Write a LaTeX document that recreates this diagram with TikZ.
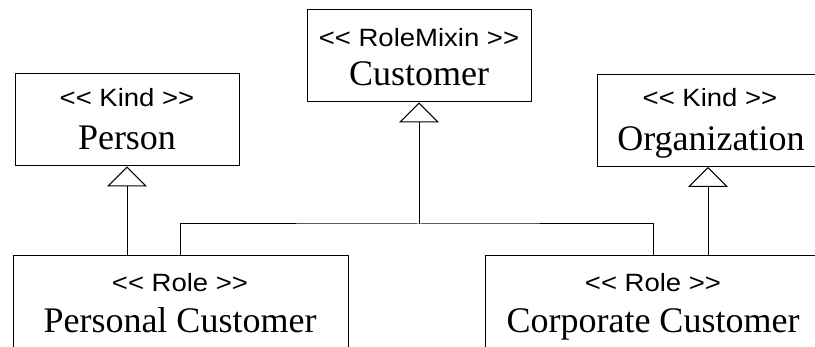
\documentclass[tikz,border=0pt]{standalone}
\usepackage{fontspec}
\setmainfont{Liberation Serif}
\newfontfamily\stereofont[FakeStretch=1.1]{Liberation Sans}
\usetikzlibrary{arrows.meta}
\begin{document}
\begin{tikzpicture}[x=1pt,y=-1pt,line width=1pt,
  umlbox/.style={draw=black,line width=1pt,inner sep=0pt,minimum width=#1,minimum height=92pt},
  stereo/.style={anchor=base,inner sep=0pt,font=\stereofont\fontsize{25}{28}\selectfont},
  cname/.style={anchor=base,inner sep=0pt,font=\fontsize{36}{40}\selectfont},
  gen/.style={draw=black,line width=1pt,-{Triangle[open,length=20pt,width=40pt]}}]
\fill[white] (0,0) rectangle (815,347);
\useasboundingbox (0,0) rectangle (815,347);
% boxes
\node[umlbox=224pt] (person) at (127,120) {};
\node[umlbox=224pt] (customer) at (419,56) {};
\node[umlbox=222pt] (org) at (708,120.5) {};
\node[umlbox=335pt,minimum height=96pt] (personal) at (180.5,304) {};
\node[umlbox=336pt,minimum height=96pt] (corporate) at (653,304) {};
% texts
\node[stereo] (personS) at (127,107) {<\kern0pt< Kind >\kern0pt>};
\node[cname] (personN) at (127,150) {Person};
\node[stereo] (customerS) at (419,47) {<\kern0pt< RoleMixin >\kern0pt>};
\node[cname] (customerN) at (419,86) {Customer};
\node[stereo] (orgS) at (710,107) {<\kern0pt< Kind >\kern0pt>};
\node[cname] (orgN) at (711,151) {Organization};
\node[stereo] (personalS) at (180,292) {<\kern0pt< Role >\kern0pt>};
\node[cname] (personalN) at (180,333) {Personal Customer};
\node[stereo] (corporateS) at (653,292) {<\kern0pt< Role >\kern0pt>};
\node[cname] (corporateN) at (653,333) {Corporate Customer};
% connectors
\coordinate (join) at (customer.south |- 0,224);
\draw (personal.north) |- (join) -| (corporate.north);
\draw[gen] (join) -- (customer.south);
\draw[gen] (person.south |- personal.north) -- (person.south);
\draw[gen] (org.south |- corporate.north) -- (org.south);
\end{tikzpicture}
\end{document}
